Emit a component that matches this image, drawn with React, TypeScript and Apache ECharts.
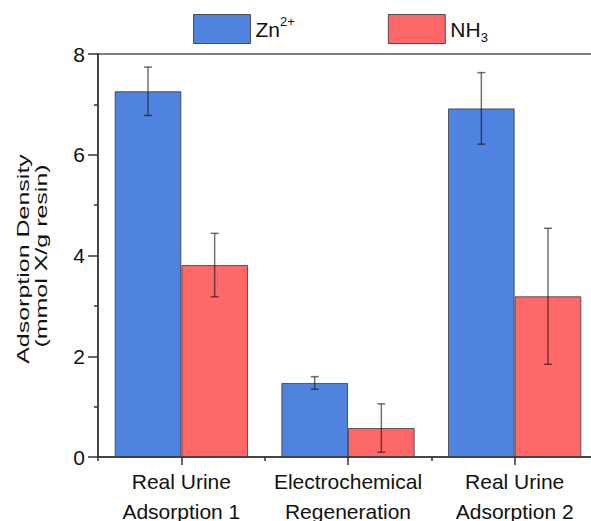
import React, { useEffect, useRef } from "react";
import * as echarts from "echarts";

const categories = ["Real Urine\nAdsorption 1", "Electrochemical\nRegeneration", "Real Urine\nAdsorption 2"];
const seriesNames = ["Zn2+", "NH3"];
const znValues = [7.26, 1.47, 6.92];
const znErrors = [0.48, 0.125, 0.71];
const nh3Values = [3.81, 0.575, 3.19];
const nh3Errors = [0.63, 0.48, 1.35];
const yTicks = { min: 0, max: 8, interval: 2 };

const BLUE = "#5082e0";
const RED = "#ff6868";
const FONT = "Liberation Sans";

function errData(vals: number[], errs: number[]) {
  return vals.map((v, i) => [i, v - errs[i], v + errs[i]]);
}

function errSeries(name: string, vals: number[], errs: number[], offset: number) {
  return {
    type: "custom",
    name: name + "-err",
    xAxisIndex: 0,
    yAxisIndex: 0,
    z: 5,
    silent: true,
    data: errData(vals, errs),
    renderItem: (params: any, api: any) => {
      const idx = api.value(0);
      const lo = api.coord([idx, api.value(1)]);
      const hi = api.coord([idx, api.value(2)]);
      const band = api.size([1, 0])[0];
      const x = lo[0] + offset * band;
      const cap = 4;
      const style = { stroke: "rgba(20,20,20,0.6)", lineWidth: 1.5 };
      return {
        type: "group",
        children: [
          { type: "line", shape: { x1: x, y1: lo[1], x2: x, y2: hi[1] }, style },
          { type: "line", shape: { x1: x - cap, y1: lo[1], x2: x + cap, y2: lo[1] }, style },
          { type: "line", shape: { x1: x - cap, y1: hi[1], x2: x + cap, y2: hi[1] }, style },
        ],
      };
    },
  };
}

export default function App() {
  const ref = useRef<HTMLDivElement>(null);
  useEffect(() => {
    if (!ref.current) return;
    const chart = echarts.init(ref.current, null, { renderer: "svg" });
    const barBorder = { borderColor: "rgba(50,50,50,0.75)", borderWidth: 1 };
    chart.setOption({
      animation: false,
      backgroundColor: "#ffffff",
      textStyle: { fontFamily: FONT },
      grid: {
        left: 98,
        top: 54,
        right: -7,
        bottom: 64,
        containLabel: false,
        outerBoundsMode: "none",
        show: true,
        borderColor: "#555",
        borderWidth: 1.5,
        backgroundColor: "transparent",
      },
      legend: {
        data: seriesNames,
        left: 193,
        top: 14,
        padding: 0,
        itemWidth: 57,
        itemHeight: 29,
        itemGap: 93,
        icon: "rect",
        itemStyle: { borderColor: "rgba(50,50,50,0.8)", borderWidth: 1 },
        formatter: (name: string) => (name === "Zn2+" ? "{a|Zn}{sup|2+}" : "{a|NH}{sub|3}"),
        textStyle: {
          fontFamily: FONT,
          color: "#111",
          rich: {
            a: { fontSize: 21, fontFamily: FONT, color: "#111", lineHeight: 29 },
            sup: { fontSize: 13, fontFamily: FONT, color: "#111", verticalAlign: "top", lineHeight: 19 },
            sub: { fontSize: 13, fontFamily: FONT, color: "#111", verticalAlign: "bottom", lineHeight: 12 },
          },
        },
      },
      xAxis: [
        {
          type: "category",
          data: categories,
          position: "bottom",
          axisLine: { show: true, lineStyle: { color: "#333", width: 1.5 } },
          axisTick: { show: true, alignWithLabel: true, length: 8, lineStyle: { color: "#333", width: 1.5 } },
          axisLabel: {
            interval: 0,
            margin: 9,
            fontSize: 21,
            lineHeight: 30,
            color: "#111",
            fontFamily: FONT,
          },
        },
        {
          type: "category",
          data: categories,
          position: "bottom",
          axisLine: { show: false },
          axisTick: { show: true, length: 4, lineStyle: { color: "#333", width: 1.5 } },
          axisLabel: { show: false },
        },
      ],
      yAxis: {
        type: "value",
        min: yTicks.min,
        max: yTicks.max,
        interval: yTicks.interval,
        axisLine: { show: true, lineStyle: { color: "#333", width: 1.5 } },
        axisTick: { show: true, length: 10, lineStyle: { color: "#333", width: 1.5 } },
        minorTick: { show: true, splitNumber: 2, length: 4, lineStyle: { color: "#333", width: 1.5 } },
        splitLine: { show: false },
        axisLabel: { fontSize: 21, margin: 13, color: "#111", fontFamily: FONT },
      },
      graphic: [
        {
          type: "text",
          x: 23,
          y: 259,
          rotation: Math.PI / 2,
          scaleX: 1.47,
          scaleY: 1,
          style: {
            text: "Adsorption Density",
            font: `17px ${FONT}`,
            fill: "#111",
            align: "center",
            verticalAlign: "middle",
          },
        },
        {
          type: "text",
          x: 41,
          y: 256,
          rotation: Math.PI / 2,
          scaleX: 1.47,
          scaleY: 1,
          style: {
            text: "(mmol X/g resin)",
            font: `17px ${FONT}`,
            fill: "#111",
            align: "center",
            verticalAlign: "middle",
          },
        },
      ],
      series: [
        {
          type: "bar",
          name: seriesNames[0],
          data: znValues,
          barWidth: "40%",
          barGap: "0%",
          itemStyle: { color: BLUE, ...barBorder },
        },
        {
          type: "bar",
          name: seriesNames[1],
          data: nh3Values,
          barWidth: "40%",
          barGap: "0%",
          itemStyle: { color: RED, ...barBorder },
        },
        errSeries("zn", znValues, znErrors, -0.2),
        errSeries("nh3", nh3Values, nh3Errors, 0.2),
      ],
    });
    return () => chart.dispose();
  }, []);
  return <div ref={ref} style={{ position: "fixed", left: 0, top: 0, width: 591, height: 521 }} />;
}
